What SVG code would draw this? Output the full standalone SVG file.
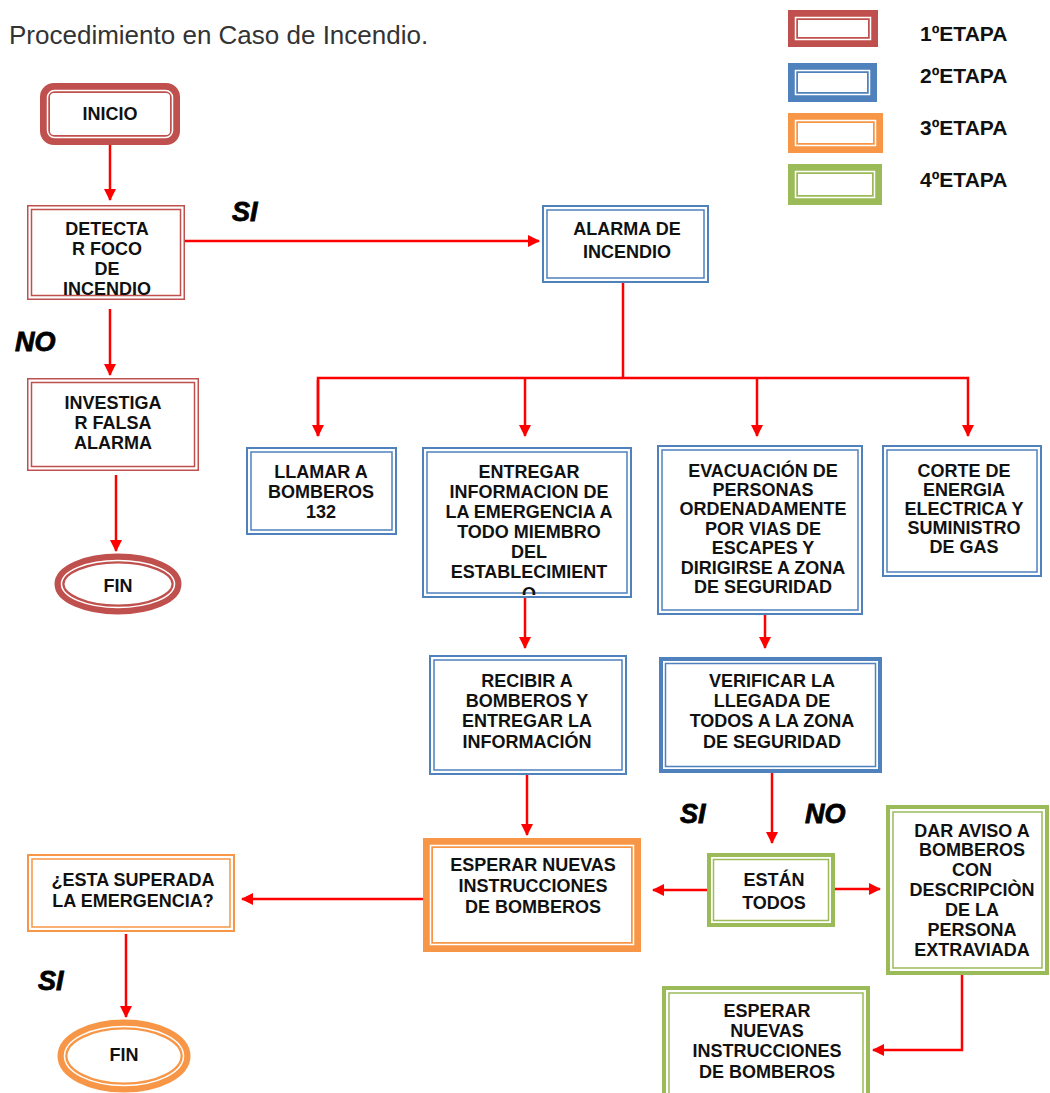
<svg xmlns="http://www.w3.org/2000/svg" width="1050" height="1093" viewBox="0 0 1050 1093">
<defs>
<marker id="ah" markerUnits="userSpaceOnUse" markerWidth="12" markerHeight="12" viewBox="0 0 12 12" refX="11" refY="6" orient="auto">
<path d="M0,0 L12,6 L0,12 z" fill="#FF0000"/>
</marker>
<clipPath id="clipEnt"><rect x="423" y="448" width="208" height="147"/></clipPath>
</defs>
<style>
.t{font-family:"Liberation Sans",Arial,sans-serif;font-weight:bold;font-size:18px;fill:#111;text-anchor:middle}
.lg{font-family:"Liberation Sans",Arial,sans-serif;font-weight:bold;font-size:21px;fill:#111}
.yn{font-family:"Liberation Sans",Arial,sans-serif;font-weight:bold;font-style:italic;font-size:27px;fill:#000;stroke:#000;stroke-width:0.8}
.title{font-family:"Liberation Sans",Arial,sans-serif;font-size:26px;fill:#333}
.red{stroke:#C0504D}.blue{stroke:#4F81BD}.ora{stroke:#F79646}.grn{stroke:#9BBB59}
.o{fill:#fff}
.i{fill:none;stroke-width:1.5}
.band{fill:#fff;stroke-width:10}
.wl{fill:none;stroke:#fff;stroke-width:1.5}
.c{fill:none;stroke:#FF0000;stroke-width:2.5}
</style>
<rect width="1050" height="1093" fill="#fff"/>
<text class="title" x="9" y="44">Procedimiento en Caso de Incendio.</text>

<g id="legend">
<rect class="band red" x="793" y="15" width="80" height="27"/><rect class="wl" x="795.5" y="17.5" width="75" height="22"/>
<text class="lg" x="920" y="41">1ºETAPA</text>
<rect class="band blue" x="793" y="68" width="79" height="29"/><rect class="wl" x="795.5" y="70.5" width="74" height="24"/>
<text class="lg" x="920" y="83">2ºETAPA</text>
<rect class="band ora" x="793" y="118" width="85" height="30"/><rect class="wl" x="795.5" y="120.5" width="80" height="25"/>
<text class="lg" x="920" y="135">3ºETAPA</text>
<rect class="band grn" x="793" y="169" width="84" height="31"/><rect class="wl" x="795.5" y="171.5" width="79" height="26"/>
<text class="lg" x="920" y="187">4ºETAPA</text>
</g>

<g id="connectors">
<line class="c" x1="110" y1="145" x2="110" y2="200" marker-end="url(#ah)"/>
<line class="c" x1="185" y1="241" x2="539" y2="241" marker-end="url(#ah)"/>
<line class="c" x1="110" y1="309" x2="110" y2="375" marker-end="url(#ah)"/>
<line class="c" x1="116" y1="475" x2="116" y2="551" marker-end="url(#ah)"/>
<line class="c" x1="623" y1="283" x2="623" y2="378"/>
<polyline class="c" points="318,436 318,378 968,378 968,436" marker-end="url(#ah)"/>
<line class="c" x1="318" y1="380" x2="318" y2="436" marker-end="url(#ah)"/>
<line class="c" x1="525" y1="378" x2="525" y2="436" marker-end="url(#ah)"/>
<line class="c" x1="757" y1="378" x2="757" y2="436" marker-end="url(#ah)"/>
<line class="c" x1="525" y1="598" x2="525" y2="648" marker-end="url(#ah)"/>
<line class="c" x1="765" y1="615" x2="765" y2="648" marker-end="url(#ah)"/>
<line class="c" x1="527" y1="775" x2="527" y2="835" marker-end="url(#ah)"/>
<line class="c" x1="772" y1="773" x2="772" y2="843" marker-end="url(#ah)"/>
<line class="c" x1="707" y1="890" x2="653" y2="890" marker-end="url(#ah)"/>
<line class="c" x1="835" y1="889" x2="880" y2="889" marker-end="url(#ah)"/>
<polyline class="c" points="962,975 962,1050 873,1050" marker-end="url(#ah)"/>
<line class="c" x1="423" y1="899" x2="242" y2="899" marker-end="url(#ah)"/>
<line class="c" x1="126" y1="934" x2="126" y2="1017" marker-end="url(#ah)"/>
</g>

<g id="labels">
<text class="yn" x="232" y="221">SI</text>
<text class="yn" x="15" y="351">NO</text>
<text class="yn" x="680" y="823">SI</text>
<text class="yn" x="805" y="823">NO</text>
<text class="yn" x="38" y="990">SI</text>
</g>

<g id="n-inicio">
<rect class="band red" x="45" y="88" width="130" height="52" rx="9"/>
<rect class="wl" x="47.5" y="90.5" width="125" height="47" rx="7"/>
<text class="t" x="110" y="120">INICIO</text>
</g>

<g id="n-detectar">
<rect class="o red" x="27.75" y="205.75" width="156.5" height="93.5" stroke-width="1.5"/>
<rect class="i red" x="31.5" y="209.5" width="149" height="86"/>
<text class="t" x="107" y="235">DETECTA</text>
<text class="t" x="107" y="255">R FOCO</text>
<text class="t" x="107" y="275">DE</text>
<text class="t" x="107" y="295">INCENDIO</text>
</g>

<g id="n-investigar">
<rect class="o red" x="27.75" y="378.75" width="170.5" height="91.5" stroke-width="1.5"/>
<rect class="i red" x="31.5" y="382.5" width="163" height="84"/>
<text class="t" x="113" y="409">INVESTIGA</text>
<text class="t" x="113" y="429">R FALSA</text>
<text class="t" x="113" y="449">ALARMA</text>
</g>

<g id="n-fin1">
<ellipse class="band red" cx="118" cy="584" rx="58.5" ry="25.5" stroke-width="9"/>
<ellipse class="wl" cx="118" cy="584" rx="56.5" ry="23.5" stroke-width="1.3"/>
<text class="t" x="118" y="592">FIN</text>
</g>

<g id="n-alarma">
<rect class="o blue" x="543" y="206" width="165" height="76" stroke-width="2"/>
<rect class="i blue" x="547" y="210" width="157" height="68"/>
<text class="t" x="627" y="235">ALARMA DE</text>
<text class="t" x="627" y="258">INCENDIO</text>
</g>

<g id="n-llamar">
<rect class="o blue" x="247" y="448" width="149" height="86" stroke-width="2"/>
<rect class="i blue" x="251" y="452" width="141" height="78"/>
<text class="t" x="321" y="478">LLAMAR A</text>
<text class="t" x="321" y="498">BOMBEROS</text>
<text class="t" x="321" y="518">132</text>
</g>

<g id="n-entregar">
<rect class="o blue" x="423" y="448" width="208" height="149" stroke-width="2"/>
<rect class="i blue" x="427" y="452" width="200" height="141"/>
<g clip-path="url(#clipEnt)">
<text class="t" x="529" y="478">ENTREGAR</text>
<text class="t" x="529" y="498">INFORMACION DE</text>
<text class="t" x="529" y="518">LA EMERGENCIA A</text>
<text class="t" x="529" y="538">TODO MIEMBRO</text>
<text class="t" x="529" y="558">DEL</text>
<text class="t" x="529" y="578">ESTABLECIMIENT</text>
<text class="t" x="529" y="600">O</text>
</g>
</g>

<g id="n-evacuacion">
<rect class="o blue" x="658" y="446" width="204" height="168" stroke-width="2"/>
<rect class="i blue" x="662" y="450" width="196" height="160"/>
<text class="t" x="763" y="477">EVACUACIÓN DE</text>
<text class="t" x="763" y="496">PERSONAS</text>
<text class="t" x="763" y="515">ORDENADAMENTE</text>
<text class="t" x="763" y="535">POR VIAS DE</text>
<text class="t" x="763" y="554">ESCAPES Y</text>
<text class="t" x="763" y="574">DIRIGIRSE A ZONA</text>
<text class="t" x="763" y="593">DE SEGURIDAD</text>
</g>

<g id="n-corte">
<rect class="o blue" x="883" y="446" width="158" height="130" stroke-width="2"/>
<rect class="i blue" x="887" y="450" width="150" height="122"/>
<text class="t" x="964" y="477">CORTE DE</text>
<text class="t" x="964" y="496">ENERGIA</text>
<text class="t" x="964" y="515">ELECTRICA Y</text>
<text class="t" x="964" y="534">SUMINISTRO</text>
<text class="t" x="964" y="553">DE GAS</text>
</g>

<g id="n-recibir">
<rect class="o blue" x="430" y="656" width="196" height="118" stroke-width="2"/>
<rect class="i blue" x="434" y="660" width="188" height="110"/>
<text class="t" x="527" y="687">RECIBIR A</text>
<text class="t" x="527" y="707">BOMBEROS Y</text>
<text class="t" x="527" y="727">ENTREGAR LA</text>
<text class="t" x="527" y="748">INFORMACIÓN</text>
</g>

<g id="n-verificar">
<rect class="o blue" x="661" y="659" width="219" height="112" stroke-width="4"/>
<rect class="i blue" x="665.5" y="663.5" width="210" height="103"/>
<text class="t" x="772" y="687">VERIFICAR LA</text>
<text class="t" x="772" y="707">LLEGADA DE</text>
<text class="t" x="772" y="727">TODOS A LA ZONA</text>
<text class="t" x="772" y="748">DE SEGURIDAD</text>
</g>

<g id="n-esperar1">
<rect class="band ora" x="428" y="843" width="208" height="104"/>
<rect class="wl" x="430.5" y="845.5" width="203" height="99"/>
<text class="t" x="533" y="871">ESPERAR NUEVAS</text>
<text class="t" x="533" y="892">INSTRUCCIONES</text>
<text class="t" x="533" y="913">DE BOMBEROS</text>
</g>

<g id="n-superada">
<rect class="o ora" x="28" y="855" width="206" height="76" stroke-width="2"/>
<rect class="i ora" x="32" y="859" width="198" height="68"/>
<text class="t" x="133" y="886">¿ESTA SUPERADA</text>
<text class="t" x="133" y="907">LA EMERGENCIA?</text>
</g>

<g id="n-fin2">
<ellipse class="band ora" cx="124" cy="1056" rx="61.5" ry="31.5" stroke-width="9"/>
<ellipse class="wl" cx="124" cy="1056" rx="59.5" ry="29.5" stroke-width="1.3"/>
<text class="t" x="124" y="1061">FIN</text>
</g>

<g id="n-estan">
<rect class="o grn" x="709" y="855" width="124" height="70" stroke-width="4"/>
<rect class="i grn" x="713.5" y="859.5" width="115" height="61"/>
<text class="t" x="774" y="886">ESTÁN</text>
<text class="t" x="774" y="909">TODOS</text>
</g>

<g id="n-aviso">
<rect class="o grn" x="888" y="807" width="159" height="166" stroke-width="4"/>
<rect class="i grn" x="893" y="812" width="149" height="156"/>
<text class="t" x="972" y="837">DAR AVISO A</text>
<text class="t" x="972" y="856">BOMBEROS</text>
<text class="t" x="972" y="876">CON</text>
<text class="t" x="972" y="896">DESCRIPCIÒN</text>
<text class="t" x="972" y="916">DE LA</text>
<text class="t" x="972" y="936">PERSONA</text>
<text class="t" x="972" y="956">EXTRAVIADA</text>
</g>

<g id="n-esperar2">
<rect class="o grn" x="664" y="988" width="204" height="130" stroke-width="4"/>
<rect class="i grn" x="669" y="993" width="194" height="120"/>
<text class="t" x="767" y="1017">ESPERAR</text>
<text class="t" x="767" y="1037">NUEVAS</text>
<text class="t" x="767" y="1057">INSTRUCCIONES</text>
<text class="t" x="767" y="1078">DE BOMBEROS</text>
</g>
</svg>
